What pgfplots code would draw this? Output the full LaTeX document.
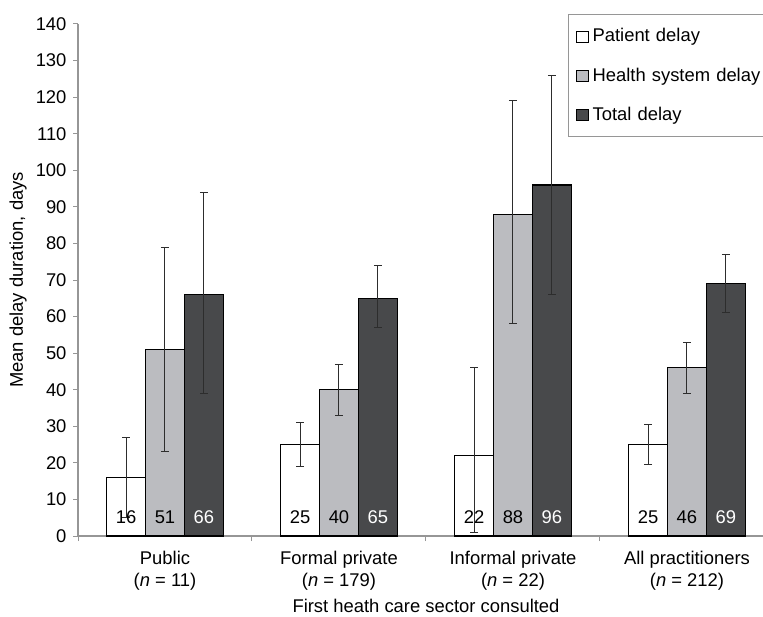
\documentclass[border=0pt]{standalone}
\usepackage{pgfplots}
\pgfplotsset{compat=1.18}
\usepackage{fontspec}
\setmainfont{Liberation Sans}
\definecolor{hsd}{RGB}{187,188,192}
\definecolor{tot}{RGB}{72,73,75}
\definecolor{axgray}{RGB}{150,150,150}
\definecolor{ebar}{RGB}{45,45,45}
\pgfplotsset{sqleg/.style={legend image code/.code={\draw[##1,line width=0.5pt] (0pt,-2.8pt) rectangle (5.6pt,2.8pt);}},
  ebars/.style={error bars/.cd, y dir=both, y explicit,
    error bar style={ebar, line width=0.5pt},
    error mark options={rotate=90, mark size=2pt, ebar, line width=0.5pt}},
  vlab/.style={forget plot, only marks, mark=none, nodes near coords, point meta=explicit symbolic,
    every node near coord/.append style={anchor=base, yshift=6.3pt, inner sep=0pt, text=#1}}}
\begin{document}
\fontsize{9.2}{11}\selectfont
\begin{tikzpicture}
\begin{axis}[name=ax, scale only axis, width=342.5pt, height=256pt,
  xmin=-0.5, xmax=3.437, ymin=0, ymax=140,
  axis lines=left, axis line style={-, draw=axgray, line width=0.6pt},
  ytick={0,10,...,140}, tick align=outside, major tick length=2.5pt,
  ytick style={draw=axgray, line width=0.5pt},
  xtick={0,1,2,3},
  xticklabels={Public\\(\textit{n} = 11),Formal private\\(\textit{n} = 179),Informal private\\(\textit{n} = 22),All practitioners\\(\textit{n} = 212)},
  xtick style={draw=none},
  extra x ticks={-0.5,0.5,1.5,2.5}, extra x tick labels={},
  extra x tick style={xtick style={draw=axgray, line width=0.5pt}},
  xticklabel style={align=center, font=\fontsize{9.2}{11}\selectfont, yshift=-2pt},
  yticklabel style={font=\fontsize{9.2}{11}\selectfont},
  ylabel={Mean delay duration, days},
  ylabel style={at={(axis description cs:-0.0876,0.5)}, anchor=center, font=\fontsize{9.2}{11}\selectfont},
  clip=false,
  /pgf/number format/assume math mode=true,
  legend style={at={(0.715,1.0195)}, anchor=north west, draw=axgray, fill=white,
    row sep=7.5pt, inner xsep=4pt, inner ysep=5pt, line width=0.6pt,
    font=\fontsize{9.2}{11}\selectfont,
    nodes={text width=92pt, align=left, inner xsep=2pt}},
  legend cell align=left,
]
\addplot[ybar, bar width=0.224, bar shift=0, fill=white, draw=black, line width=0.6pt, sqleg, ebars]
  coordinates {(-0.224,16) += (0,11) -= (0,11)
               (0.776,25) += (0,6) -= (0,6)
               (1.776,22) += (0,24) -= (0,21)
               (2.776,25) += (0,5.5) -= (0,5.5)};
\addlegendentry{Patient delay}
\addplot[ybar, bar width=0.224, bar shift=0, fill=hsd, draw=black, line width=0.6pt, sqleg, ebars]
  coordinates {(0,51) += (0,28) -= (0,28)
               (1,40) += (0,7) -= (0,7)
               (2,88) += (0,31) -= (0,30)
               (3,46) += (0,7) -= (0,7)};
\addlegendentry{Health system delay}
\addplot[ybar, bar width=0.224, bar shift=0, fill=tot, draw=black, line width=0.6pt, sqleg, ebars]
  coordinates {(0.224,66) += (0,28) -= (0,27)
               (1.224,65) += (0,9) -= (0,8)
               (2.224,96) += (0,30) -= (0,30)
               (3.224,69) += (0,8) -= (0,8)};
\addlegendentry{Total delay}
\addplot[vlab=black] coordinates {(-0.224,0)[16] (0.776,0)[25] (1.776,0)[22] (2.776,0)[25]};
\addplot[vlab=black] coordinates {(0,0)[51] (1,0)[40] (2,0)[88] (3,0)[46]};
\addplot[vlab=white] coordinates {(0.224,0)[66] (1.224,0)[65] (2.224,0)[96] (3.224,0)[69]};
\node[anchor=center, yshift=-35pt] at (axis cs:1.5,0) {First heath care sector consulted};
\end{axis}
\pgfresetboundingbox
\path[use as bounding box] ([xshift=-39pt,yshift=-40pt]ax.south west) rectangle ([yshift=12pt]ax.north east);
\end{tikzpicture}
\end{document}
